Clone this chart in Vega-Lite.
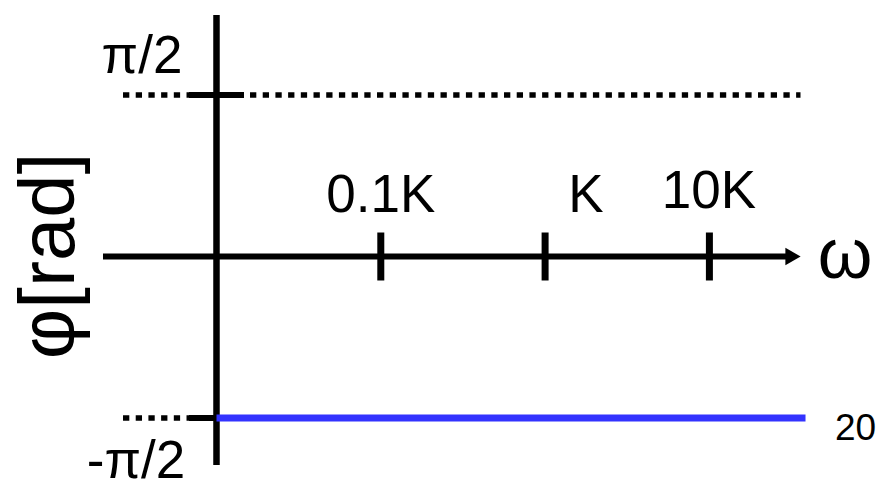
{
  "$schema": "https://vega.github.io/schema/vega-lite/v6.json",
  "width": 881,
  "height": 488,
  "autosize": "none",
  "padding": 0,
  "background": "white",
  "config": {
    "view": {"stroke": null},
    "text": {"font": "Liberation Sans", "color": "black"}
  },
  "encoding": {
    "x": {
      "field": "w",
      "type": "quantitative",
      "axis": null,
      "scale": {"type": "log", "domain": [0.0004812, 110.77], "nice": false}
    },
    "y": {
      "field": "phi",
      "type": "quantitative",
      "axis": null,
      "scale": {"domain": [-2.25164, 2.4948], "nice": false, "zero": false}
    }
  },
  "layer": [
    {
      "description": "dotted guides at +pi/2 and -pi/2",
      "data": {"values": [
        {"w": 0.002698, "w2": 35.85, "phi": 1.5708},
        {"w": 0.002698, "w2": 35.85, "phi": -1.5708}
      ]},
      "mark": {"type": "rule", "color": "black", "strokeWidth": 5.5, "strokeDash": [6.3, 6.4]},
      "encoding": {"x2": {"field": "w2"}}
    },
    {
      "description": "phase axis (vertical)",
      "data": {"values": [{"w": 0.01, "phi": 2.3489, "phi2": -2.0279}]},
      "mark": {"type": "rule", "color": "black", "strokeWidth": 6.5},
      "encoding": {"y2": {"field": "phi2"}}
    },
    {
      "description": "frequency axis (horizontal) and short marks on the phase axis",
      "data": {"values": [
        {"w": 0.002038, "w2": 30.94, "phi": 0},
        {"w": 0.006802, "w2": 0.0147, "phi": 1.5708},
        {"w": 0.006802, "w2": 0.0147, "phi": -1.5708}
      ]},
      "mark": {"type": "rule", "color": "black", "strokeWidth": 6},
      "encoding": {"x2": {"field": "w2"}}
    },
    {
      "description": "decade ticks on the frequency axis",
      "data": {"values": [
        {"w": 0.1, "phi": 0.2334, "phi2": -0.2334},
        {"w": 1, "phi": 0.2334, "phi2": -0.2334},
        {"w": 10, "phi": 0.2334, "phi2": -0.2334}
      ]},
      "mark": {"type": "rule", "color": "black", "strokeWidth": 7},
      "encoding": {"y2": {"field": "phi2"}}
    },
    {
      "description": "phase response: constant -pi/2",
      "data": {"values": [{"w": 0.01, "w2": 38.46, "phi": -1.5708}]},
      "mark": {"type": "rule", "color": "#3333ff", "strokeWidth": 7},
      "encoding": {"x2": {"field": "w2"}}
    },
    {
      "description": "arrowhead of the frequency axis",
      "data": {"values": [{"w": 32.27, "phi": 0}]},
      "mark": {"type": "point", "shape": "triangle-right", "filled": true, "color": "black", "size": 310, "opacity": 1}
    },
    {
      "description": "decade labels",
      "data": {"values": [
        {"w": 0.1, "phi": 0.4326, "label": "0.1K"},
        {"w": 1.774, "phi": 0.4326, "label": "K"},
        {"w": 9.945, "phi": 0.4715, "label": "10K"}
      ]},
      "mark": {"type": "text", "fontSize": 53, "align": "center", "baseline": "alphabetic"},
      "encoding": {"text": {"field": "label"}}
    },
    {
      "description": "phase level labels",
      "data": {"values": [
        {"w": 0.003521, "phi": 1.7848, "label": "π/2"},
        {"w": 0.003236, "phi": -2.1544, "label": "-π/2"}
      ]},
      "mark": {"type": "text", "fontSize": 53, "align": "center", "baseline": "alphabetic"},
      "encoding": {"text": {"field": "label"}}
    },
    {
      "description": "axis names",
      "data": {"values": [{"w": 66.9, "phi": -0.2091, "label": "ω"}]},
      "mark": {"type": "text", "fontSize": 70, "align": "center", "baseline": "alphabetic"},
      "encoding": {"text": {"field": "label"}}
    },
    {
      "data": {"values": [{"w": 0.001357, "phi": 0.0049, "label": "φ[rad]"}]},
      "mark": {"type": "text", "fontSize": 78, "angle": 270, "align": "center", "baseline": "alphabetic"},
      "encoding": {"text": {"field": "label"}}
    },
    {
      "description": "gain tag at the end of the response line",
      "data": {"values": [{"w": 77.5, "phi": -1.7848, "label": "20"}]},
      "mark": {"type": "text", "fontSize": 37, "align": "center", "baseline": "alphabetic"},
      "encoding": {"text": {"field": "label"}}
    }
  ]
}
